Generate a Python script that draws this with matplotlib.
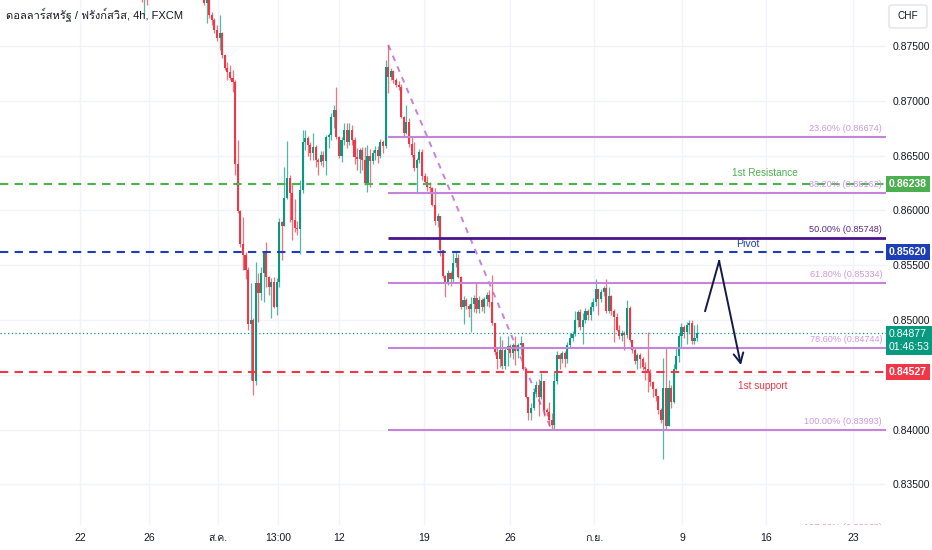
import matplotlib
matplotlib.use("Agg")
import matplotlib.pyplot as plt
import matplotlib.transforms as mtransforms
from matplotlib import font_manager
from matplotlib.ft2font import FT2Font
from matplotlib.patches import FancyBboxPatch

# ---- data (USD/CHF 4h, FXCM) ----
first_open = 0.8820
closes = [
    0.8812, 0.8800, 0.8805, 0.8798, 0.8815, 0.8828, 0.8840, 0.8835, 0.8845, 0.8850,
    0.8842, 0.8836, 0.8848, 0.8855, 0.8846, 0.8838, 0.8830, 0.8835, 0.8826, 0.8818,
    0.8822, 0.8812, 0.8806, 0.8810, 0.8800,
    0.8789, 0.8794, 0.8778, 0.8774, 0.8765, 0.8757, 0.8762, 0.8742, 0.8730, 0.8726,
    0.8721, 0.8717, 0.8642, 0.8599, 0.8569, 0.8559, 0.8546, 0.8496, 0.8500, 0.8444,
    0.8534, 0.8525, 0.8543, 0.8561,
    0.8539, 0.8530, 0.8535, 0.8512, 0.8535, 0.8589, 0.8586, 0.8611, 0.8630, 0.8616,
    0.8591, 0.8584, 0.8583, 0.8619, 0.8662, 0.8666, 0.8660, 0.8652, 0.8658, 0.8646,
    0.8644, 0.8651, 0.8645, 0.8667, 0.8669, 0.8685, 0.8692, 0.8667, 0.8650, 0.8664,
    0.8673, 0.8662, 0.8673, 0.8664, 0.8649, 0.8647, 0.8655, 0.8646, 0.8625, 0.8650,
    0.8645, 0.8652, 0.8655, 0.8650, 0.8662, 0.8659, 0.8731, 0.8722,
    0.8727, 0.8719, 0.8714, 0.8713, 0.8685, 0.8671, 0.8681, 0.8661, 0.8651, 0.8639,
    0.8646, 0.8653, 0.8631, 0.8626, 0.8621, 0.8620, 0.8605, 0.8590, 0.8595, 0.8564,
    0.8540, 0.8534, 0.8543, 0.8537, 0.8552, 0.8557, 0.8539, 0.8512, 0.8518, 0.8513,
    0.8510, 0.8515, 0.8520, 0.8510, 0.8518, 0.8512, 0.8519, 0.8523, 0.8516, 0.8497,
    0.8471, 0.8464,
    0.8473, 0.8458, 0.8473, 0.8476, 0.8470, 0.8477, 0.8472, 0.8477, 0.8479, 0.8455,
    0.8430, 0.8415, 0.8420, 0.8434, 0.8441, 0.8430, 0.8444, 0.8418, 0.8416, 0.8409,
    0.8404, 0.8444, 0.8468, 0.8464, 0.8470, 0.8464, 0.8477, 0.8484, 0.8487, 0.8500,
    0.8507, 0.8494, 0.8500, 0.8508, 0.8505, 0.8512, 0.8516, 0.8528, 0.8519, 0.8526,
    0.8529, 0.8508, 0.8522, 0.8508, 0.8503, 0.8491, 0.8485, 0.8488, 0.8486, 0.8511,
    0.8482, 0.8473, 0.8463, 0.8468, 0.8464, 0.8457, 0.8455, 0.8452, 0.8443, 0.8437,
    0.8431, 0.8418, 0.8409, 0.8438, 0.8403, 0.8438, 0.8425, 0.8455, 0.8467, 0.8485,
    0.8494, 0.8489, 0.8495, 0.8497, 0.8481, 0.8484, 0.84877,
]
highs = [
    0.8832, 0.8815, 0.8810, 0.8812, 0.8822, 0.8835, 0.8848, 0.8850, 0.8855, 0.8860,
    0.8856, 0.8848, 0.8855, 0.8862, 0.8860, 0.8850, 0.8842, 0.8840, 0.8838, 0.8830,
    0.8828, 0.8825, 0.8818, 0.8815, 0.8812,
    0.8806, 0.8797, 0.8794, 0.8781, 0.8776, 0.8769, 0.8778, 0.8763, 0.8742, 0.8735,
    0.8733, 0.8728, 0.8719, 0.8664, 0.8600, 0.8594, 0.8562, 0.8548, 0.8534, 0.8502,
    0.8553, 0.8543, 0.8548, 0.8563,
    0.8571, 0.8540, 0.8538, 0.8539, 0.8538, 0.8593, 0.8590, 0.8640, 0.8663, 0.8632,
    0.8625, 0.8610, 0.8590, 0.8628, 0.8673, 0.8673, 0.8668, 0.8662, 0.8671, 0.8660,
    0.8648, 0.8654, 0.8654, 0.8669, 0.8671, 0.8689, 0.8696, 0.8713, 0.8668, 0.8667,
    0.8680, 0.8680, 0.8680, 0.8678, 0.8667, 0.8657, 0.8657, 0.8658, 0.8658, 0.8660,
    0.8656, 0.8655, 0.8659, 0.8659, 0.8665, 0.8664, 0.8737, 0.8751,
    0.8730, 0.8728, 0.8721, 0.8718, 0.8715, 0.8686, 0.8696, 0.8684, 0.8667, 0.8662,
    0.8648, 0.8656, 0.8656, 0.8634, 0.8631, 0.8626, 0.8621, 0.8620, 0.8598, 0.8595,
    0.8564, 0.8541, 0.8546, 0.8545, 0.8561, 0.8562, 0.8560, 0.8540, 0.8522, 0.8520,
    0.8515, 0.8521, 0.8523, 0.8534, 0.8522, 0.8520, 0.8521, 0.8526, 0.8527, 0.8541,
    0.8497, 0.8475,
    0.8485, 0.8482, 0.8475, 0.8485, 0.8478, 0.8479, 0.8485, 0.8479, 0.8485, 0.8479,
    0.8456, 0.8430, 0.8424, 0.8437, 0.8444, 0.8446, 0.8452, 0.8444, 0.8420, 0.8425,
    0.8415, 0.8453, 0.8472, 0.8470, 0.8472, 0.8472, 0.8480, 0.8488, 0.8490, 0.8508,
    0.8509, 0.8510, 0.8506, 0.8511, 0.8510, 0.8516, 0.8520, 0.8537, 0.8528, 0.8528,
    0.8531, 0.8537, 0.8530, 0.8523, 0.8510, 0.8506, 0.8495, 0.8491, 0.8490, 0.8518,
    0.8513, 0.8482, 0.8474, 0.8470, 0.8470, 0.8466, 0.8462, 0.8489, 0.8455, 0.8444,
    0.8438, 0.8431, 0.8420, 0.8465, 0.8474, 0.8445, 0.8441, 0.8460, 0.8474, 0.8488,
    0.8497, 0.8495, 0.8498, 0.8500, 0.8500, 0.8495, 0.8496,
]
lows = [
    0.8808, 0.8790, 0.8778, 0.8787, 0.8795, 0.8812, 0.8825, 0.8828, 0.8830, 0.8838,
    0.8835, 0.8828, 0.8830, 0.8840, 0.8838, 0.8830, 0.8822, 0.8820, 0.8818, 0.8808,
    0.8810, 0.8805, 0.8800, 0.8798, 0.8795,
    0.8787, 0.8771, 0.8776, 0.8769, 0.8762, 0.8755, 0.8746, 0.8739, 0.8728, 0.8719,
    0.8719, 0.8708, 0.8632, 0.8598, 0.8567, 0.8546, 0.8537, 0.8491, 0.8445, 0.8432,
    0.8441, 0.8498, 0.8518, 0.8516,
    0.8530, 0.8523, 0.8502, 0.8511, 0.8505, 0.8530, 0.8555, 0.8586, 0.8610, 0.8589,
    0.8573, 0.8580, 0.8578, 0.8560, 0.8616, 0.8655, 0.8650, 0.8646, 0.8646, 0.8640,
    0.8632, 0.8641, 0.8640, 0.8632, 0.8657, 0.8664, 0.8675, 0.8665, 0.8648, 0.8644,
    0.8660, 0.8657, 0.8660, 0.8660, 0.8642, 0.8637, 0.8634, 0.8637, 0.8623, 0.8617,
    0.8621, 0.8642, 0.8646, 0.8643, 0.8648, 0.8652, 0.8657, 0.8707,
    0.8719, 0.8716, 0.8713, 0.8710, 0.8684, 0.8668, 0.8670, 0.8658, 0.8649, 0.8636,
    0.8616, 0.8643, 0.8628, 0.8625, 0.8618, 0.8616, 0.8604, 0.8587, 0.8585, 0.8558,
    0.8538, 0.8521, 0.8532, 0.8531, 0.8535, 0.8548, 0.8538, 0.8510, 0.8496, 0.8510,
    0.8503, 0.8489, 0.8507, 0.8506, 0.8506, 0.8508, 0.8506, 0.8513, 0.8512, 0.8495,
    0.8468, 0.8455,
    0.8457, 0.8455, 0.8455, 0.8458, 0.8466, 0.8464, 0.8459, 0.8465, 0.8468, 0.8454,
    0.8429, 0.8409, 0.8409, 0.8418, 0.8430, 0.8412, 0.8428, 0.8412, 0.8412, 0.8403,
    0.8400, 0.8400, 0.8442, 0.8455, 0.8461, 0.8457, 0.8461, 0.8474, 0.8481, 0.8485,
    0.8494, 0.8491, 0.8478, 0.8497, 0.8500, 0.8500, 0.8508, 0.8513, 0.8505, 0.8516,
    0.8522, 0.8506, 0.8506, 0.8505, 0.8480, 0.8490, 0.8483, 0.8481, 0.8473, 0.8484,
    0.8480, 0.8470, 0.8460, 0.8455, 0.8456, 0.8454, 0.8445, 0.8434, 0.8440, 0.8430,
    0.8426, 0.8414, 0.8406, 0.8373, 0.8401, 0.8403, 0.8420, 0.8424, 0.8454, 0.8462,
    0.8475, 0.8484, 0.8478, 0.8487, 0.8478, 0.8478, 0.8481,
]

fib_labels = ["23.60%", "38.20%", "50.00%", "61.80%", "78.60%", "100.00%", "127.20%"]
fib_prices = [0.86674, 0.86162, 0.85748, 0.85334, 0.84744, 0.83993, 0.83029]
swing_high_idx = 96
swing_low_idx = 159
swing_high = 0.8751

resistance = 0.86238
pivot = 0.85620
support = 0.84527
last_price = 0.84877
countdown = "01:46:53"

price_ticks = [0.835, 0.840, 0.845, 0.850, 0.855, 0.860, 0.865, 0.870, 0.875]
time_tick_pos = [-22.8, 3.8, 30.4, 53.5, 77.0, 109.8, 142.9, 175.3, 209.2, 241.6, 275.1]
time_tick_labels = ["22", "26", "ส.ค.", "13:00", "12", "19", "26", "ก.ย.", "9", "16", "23"]

# projection arrow drawn on the chart (bar index, price)
arrow_x = [218.1, 223.5, 231.9]
arrow_y = [0.85082, 0.85538, 0.84589]

# ---- fonts: need a face with Thai glyphs ----
def find_thai_font():
    for f in font_manager.fontManager.ttflist:
        try:
            if 0x0E14 in FT2Font(f.fname).get_charmap():
                return f.name
        except Exception:
            pass
    return None

families = ["Liberation Sans"]
thai = find_thai_font()
if thai:
    families.append(thai)
families.append("DejaVu Sans")
plt.rcParams["font.family"] = families

UP = "#089981"
DOWN = "#F23645"
GREEN = "#4CAF50"
BLUE = "#1c3fb7"
FIB = "#c583da"
FIB_TXT = "#cf98df"
FIB_MID = "#4a148c"
TXT = "#131722"
GRID = "#f0f3fa"

fig = plt.figure(figsize=(9.32, 5.5), dpi=100)
ax = fig.add_axes([0, 25 / 550, 886 / 932, 525 / 550])
ax.set_xlim(-53.6, 287.8)
ax.set_ylim(0.831296, 0.879197)
for s in ax.spines.values():
    s.set_visible(False)

# grid
for t in time_tick_pos:
    ax.axvline(t, color=GRID, lw=1, zorder=0)
for p in price_ticks:
    ax.axhline(p, color=GRID, lw=1, zorder=0)

# candles
opens = [first_open] + closes[:-1]
idx = list(range(len(closes)))
colors = [UP if c >= o else DOWN for o, c in zip(opens, closes)]
ax.vlines(idx, lows, highs, colors=colors, lw=0.9, alpha=0.7, zorder=3)
bottoms = [min(o, c) for o, c in zip(opens, closes)]
heights = [max(abs(c - o), 0.00005) for o, c in zip(opens, closes)]
ax.bar(idx, heights, bottom=bottoms, width=0.8, color=colors, lw=0, zorder=3)

# fib trend line (swing high -> swing low)
ax.plot([swing_high_idx, swing_low_idx], [swing_high, fib_prices[5]], color=FIB,
        lw=1.4, ls=(0, (3, 3)), zorder=2)

blend = mtransforms.blended_transform_factory(ax.transAxes, ax.transData)
x_right = ax.get_xlim()[1]
for lab, p in zip(fib_labels, fib_prices):
    mid = lab == "50.00%"
    ax.hlines(p, swing_high_idx, x_right, color=FIB_MID if mid else FIB,
              lw=2.0 if mid else 1.5, zorder=4)
    t = ax.annotate(f"{lab} ({p:.5f})", xy=(0.9955, p), xycoords=blend,
                    xytext=(0, 4), textcoords="offset pixels", ha="right", va="bottom",
                    fontsize=6.6, color="#5b2a86" if mid else FIB_TXT, zorder=5,
                    annotation_clip=False)
    t.set_clip_path(ax.patch)

# levels
ax.axhline(resistance, color=GREEN, lw=1.5, ls=(0, (4, 3)), zorder=4)
ax.axhline(pivot, color=BLUE, lw=1.5, ls=(0, (4, 3)), zorder=4)
ax.axhline(support, color=DOWN, lw=1.5, ls=(0, (4, 3)), zorder=4)
ax.axhline(last_price, color=UP, lw=0.9, ls=(0, (1, 2)), zorder=4)

ax.annotate("1st Resistance", xy=(0.8634, resistance), xycoords=blend, xytext=(0, 6),
            textcoords="offset pixels", ha="center", va="bottom", fontsize=7.2, color=GREEN)
ax.annotate("Pivot", xy=(0.8305, pivot), xycoords=blend, xytext=(0, 3),
            textcoords="offset pixels", ha="left", va="bottom", fontsize=7.6, color=BLUE)
ax.annotate("1st support", xy=(0.833, support), xycoords=blend, xytext=(0, -9),
            textcoords="offset pixels", ha="left", va="top", fontsize=7.2, color=DOWN)

# projection arrow
ax.plot(arrow_x[:2], arrow_y[:2], color="#131a4a", lw=1.4, zorder=6)
ax.annotate("", xy=(arrow_x[2], arrow_y[2]), xytext=(arrow_x[1], arrow_y[1]),
            arrowprops=dict(arrowstyle="->,head_length=0.7,head_width=0.35",
                            color="#131a4a", lw=1.4, shrinkA=0, shrinkB=0), zorder=6)

# axes ticks
ax.yaxis.tick_right()
ax.set_yticks(price_ticks)
ax.set_yticklabels(["" if abs(p - 0.845) < 1e-9 else f"{p:.5f}" for p in price_ticks])
ax.tick_params(axis="y", length=0, pad=5, labelsize=7.5, labelcolor=TXT)
ax.set_xticks(time_tick_pos)
ax.set_xticklabels(time_tick_labels)
ax.tick_params(axis="x", length=0, pad=6, labelsize=7.5, labelcolor=TXT)

# price scale badges
def badge(price, text, color):
    ax.annotate(text, xy=(1.0, price), xycoords=blend, xytext=(3, 0),
                textcoords="offset pixels", ha="left", va="center", fontsize=7.6,
                color="white", fontweight="bold", annotation_clip=False, zorder=10,
                bbox=dict(boxstyle="square,pad=0.3", fc=color, ec="none"))

badge(resistance, f"{resistance:.5f}", GREEN)
badge(pivot, f"{pivot:.5f}", BLUE)
badge(support, f"{support:.5f}", DOWN)
ax.annotate(f"{last_price:.5f}\n{countdown}", xy=(1.0, last_price), xycoords=blend,
            xytext=(3, -7), textcoords="offset pixels", ha="left", va="center",
            fontsize=7.6, color="white", linespacing=1.35, annotation_clip=False,
            zorder=10, bbox=dict(boxstyle="square,pad=0.3", fc=UP, ec="none"))

# currency box
fig.patches.append(FancyBboxPatch((889 / 932, 1 - 28 / 550), 38 / 932, 23 / 550,
                                  boxstyle="round,pad=0,rounding_size=0.004",
                                  transform=fig.transFigure, fc="white", ec="#e0e3eb", lw=1))
fig.text(897 / 932, 1 - 16 / 550, "CHF", fontsize=7.2, color=TXT, va="center")

fig.text(6 / 932, 1 - 15 / 550, "ดอลลาร์สหรัฐ / ฟรังก์สวิส, 4h, FXCM", fontsize=8,
         color=TXT, va="center", ha="left")

fig.savefig("out.png", dpi=100, facecolor="white")
